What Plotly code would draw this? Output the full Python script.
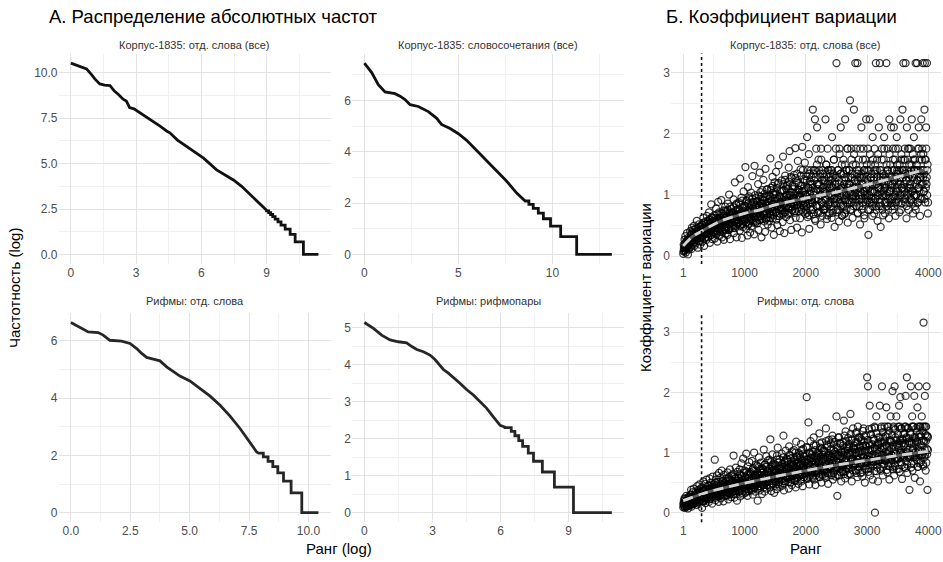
import plotly.graph_objects as go

W, H = 943, 562
FONT = "Liberation Sans, Arial, Helvetica, sans-serif"
GRID = "#e3e3e3"
GRID_MINOR = "#f0f0f0"
TICK_COLOR = "#4d4d4d"

# ---------------- Panel A: rank-frequency curves (log rank vs log frequency) ----------------
# smooth head of each curve, then the stepped tail given as frequency levels and their start points
A1_X = [0, 0.35, 0.72, 0.95, 1.1, 1.33, 1.55, 1.8, 2.0, 2.2, 2.4, 2.55, 2.7, 2.9, 3.17, 3.6,
        4.1, 4.4, 4.55, 4.9, 5.3, 5.7, 6.1, 6.7, 7.1, 7.47, 7.85, 8.2, 8.6, 9.0]
A1_Y = [10.54, 10.4, 10.22, 9.9, 9.67, 9.39, 9.32, 9.3, 9.0, 8.8, 8.55, 8.45, 8.09, 8.02, 7.81, 7.45,
        7.07, 6.8, 6.7, 6.3, 5.96, 5.62, 5.3, 4.66, 4.38, 4.1, 3.75, 3.36, 2.92, 2.43]
A1_LEVELS = [2.40, 2.30, 2.20, 2.08, 1.95, 1.79, 1.61, 1.39, 1.10, 0.69, 0.0]
A1_STARTS = [9.0, 9.09, 9.18, 9.28, 9.39, 9.52, 9.66, 9.85, 10.08, 10.31, 10.69]
A1_END = 11.38

A2_X = [0, 0.39, 0.74, 1.1, 1.63, 1.9, 2.16, 2.43, 2.87, 3.4, 3.85, 4.1, 4.56, 5.0, 5.44, 5.98,
        6.5, 7.04, 7.57, 8.1, 8.55]
A2_Y = [7.45, 7.08, 6.61, 6.33, 6.26, 6.16, 6.03, 5.83, 5.76, 5.56, 5.30, 5.06, 4.90, 4.70, 4.44, 4.04,
        3.65, 3.25, 2.85, 2.39, 2.10]
A2_LEVELS = [2.08, 1.95, 1.79, 1.61, 1.39, 1.10, 0.69, 0.0]
A2_STARTS = [8.55, 8.75, 8.98, 9.25, 9.52, 9.9, 10.44, 11.29]
A2_END = 13.16

A3_X = [0, 0.38, 0.73, 1.15, 1.36, 1.64, 2.13, 2.49, 2.77, 2.98, 3.19, 3.47, 3.75, 4.03, 4.31, 4.59,
        5.01, 5.44, 5.86, 6.28, 6.70, 7.12, 7.54, 7.82]
A3_Y = [6.64, 6.47, 6.31, 6.29, 6.20, 6.02, 5.99, 5.91, 5.73, 5.56, 5.42, 5.36, 5.30, 5.09, 4.92, 4.77,
        4.60, 4.34, 4.07, 3.75, 3.37, 2.94, 2.47, 2.12]
A3_LEVELS = [2.08, 1.95, 1.79, 1.61, 1.39, 1.10, 0.69, 0.0]
A3_STARTS = [7.9, 8.1, 8.3, 8.5, 8.71, 8.95, 9.27, 9.72]
A3_END = 10.42

A4_X = [0, 0.4, 0.76, 1.13, 1.5, 1.86, 2.09, 2.31, 2.6, 2.89, 3.11, 3.26, 3.48, 3.7, 3.92, 4.21,
        4.5, 4.8, 5.1, 5.39, 5.68, 5.98, 6.2]
A4_Y = [5.14, 4.98, 4.80, 4.67, 4.62, 4.59, 4.49, 4.41, 4.35, 4.26, 4.14, 4.04, 3.87, 3.77, 3.66, 3.50,
        3.33, 3.18, 3.00, 2.82, 2.59, 2.36, 2.31]
A4_LEVELS = [2.30, 2.20, 2.08, 1.95, 1.79, 1.61, 1.39, 1.10, 0.69, 0.0]
A4_STARTS = [6.2, 6.47, 6.63, 6.8, 6.97, 7.22, 7.45, 7.84, 8.37, 9.21]
A4_END = 10.9

# ---------------- Panel B: coefficient of variation by rank ----------------
# values in hundredths; each inner list holds 14 sampled ranks of a block of 100 ranks (1..4000)
CV_CORPUS = [
    [4, 19, 9, 27, 14, 33, 6, 22, 12, 38, 17, 3, 25, 11],
    [28, 14, 41, 22, 35, 12, 47, 31, 19, 38, 26, 50, 17, 33],
    [45, 21, 36, 58, 29, 14, 41, 33, 52, 25, 39, 19, 48, 31],
    [35, 52, 24, 44, 63, 38, 17, 47, 30, 57, 41, 27, 66, 36],
    [58, 31, 46, 72, 39, 22, 54, 43, 85, 35, 50, 28, 63, 48],
    [42, 67, 29, 55, 48, 78, 36, 61, 24, 51, 89, 44, 58, 33],
    [63, 40, 55, 92, 47, 31, 69, 52, 75, 27, 58, 44, 81, 37],
    [49, 74, 58, 35, 86, 62, 43, 101, 53, 28, 67, 46, 78, 55],
    [71, 46, 62, 93, 38, 57, 121, 66, 50, 84, 31, 60, 76, 53],
    [55, 88, 64, 42, 127, 70, 51, 96, 30, 61, 79, 48, 106, 67],
    [83, 58, 146, 69, 45, 92, 62, 34, 113, 74, 53, 98, 65, 39],
    [62, 104, 49, 77, 131, 58, 88, 70, 36, 148, 81, 55, 95, 66],
    [90, 54, 72, 118, 43, 83, 66, 137, 59, 97, 76, 31, 86, 108],
    [70, 125, 81, 57, 96, 40, 143, 74, 63, 109, 88, 52, 79, 100],
    [58, 94, 77, 160, 68, 112, 47, 85, 130, 62, 101, 35, 80, 121],
    [105, 72, 138, 60, 90, 51, 118, 83, 149, 66, 97, 41, 86, 75],
    [78, 124, 93, 56, 163, 84, 108, 38, 71, 132, 89, 64, 115, 99],
    [117, 68, 96, 145, 81, 172, 59, 104, 88, 43, 128, 76, 92, 110],
    [86, 133, 71, 102, 177, 63, 95, 121, 47, 84, 156, 109, 74, 98],
    [100, 62, 142, 88, 115, 39, 179, 94, 73, 126, 82, 107, 153, 69],
    [76, 131, 98, 195, 64, 112, 86, 167, 45, 103, 122, 81, 141, 92],
    [118, 87, 240, 69, 141, 105, 93, 224, 58, 129, 176, 82, 211, 110],
    [94, 158, 73, 117, 100, 135, 52, 176, 88, 124, 66, 141, 106, 82],
    [129, 77, 105, 224, 92, 150, 61, 118, 176, 85, 141, 99, 70, 112],
    [88, 141, 115, 63, 195, 100, 129, 76, 158, 94, 48, 122, 105, 176],
    [316, 105, 72, 141, 93, 124, 57, 176, 110, 86, 211, 135, 98, 66],
    [112, 84, 158, 100, 69, 129, 224, 92, 141, 76, 118, 176, 55, 106],
    [92, 141, 118, 255, 76, 105, 176, 88, 129, 63, 150, 100, 240, 112],
    [124, 316, 98, 176, 82, 141, 316, 70, 112, 158, 94, 129, 52, 105],
    [100, 211, 76, 129, 118, 88, 176, 141, 62, 106, 158, 94, 224, 112],
    [141, 92, 176, 35, 118, 100, 224, 76, 129, 150, 88, 106, 66, 195],
    [105, 129, 70, 176, 94, 141, 316, 82, 118, 158, 58, 112, 100, 211],
    [88, 316, 124, 48, 141, 106, 176, 76, 129, 98, 158, 195, 112, 70],
    [129, 100, 316, 82, 141, 176, 94, 118, 62, 224, 106, 150, 88, 211],
    [112, 141, 76, 176, 98, 211, 124, 88, 158, 66, 129, 106, 195, 141],
    [94, 176, 118, 141, 72, 129, 224, 100, 158, 86, 112, 240, 141, 316],
    [141, 106, 176, 88, 316, 124, 62, 211, 100, 158, 129, 76, 176, 112],
    [118, 176, 92, 141, 224, 106, 129, 70, 158, 195, 100, 141, 82, 316],
    [100, 141, 316, 124, 176, 88, 211, 112, 158, 66, 129, 141, 224, 94],
    [176, 316, 129, 141, 106, 240, 316, 88, 158, 211, 118, 316, 141, 70],
]
# the ranks in between, inside the dense band
CV_CORPUS_MID = [
    [8, 13, 17, 10, 21, 15, 24, 12, 19, 26, 16, 30, 14, 22],
    [24, 30, 21, 35, 28, 39, 25, 33, 43, 29, 36, 23, 32, 27],
    [34, 28, 40, 31, 45, 37, 26, 42, 35, 49, 32, 38, 44, 30],
    [39, 46, 33, 51, 42, 36, 55, 44, 31, 48, 40, 53, 37, 45],
    [44, 37, 52, 47, 60, 41, 55, 35, 49, 64, 45, 39, 57, 50],
    [50, 43, 58, 38, 63, 53, 47, 69, 41, 56, 61, 46, 72, 52],
    [54, 62, 45, 70, 51, 59, 40, 66, 57, 48, 74, 55, 63, 43],
    [58, 47, 66, 53, 76, 61, 44, 70, 56, 81, 50, 64, 59, 72],
    [62, 71, 51, 80, 58, 67, 46, 75, 64, 86, 55, 69, 60, 78],
    [66, 56, 76, 49, 84, 63, 71, 58, 91, 68, 53, 80, 74, 61],
    [70, 61, 82, 54, 90, 66, 76, 50, 86, 72, 64, 95, 58, 79],
    [73, 85, 60, 94, 68, 79, 55, 88, 75, 63, 100, 71, 83, 57],
    [76, 64, 90, 70, 99, 59, 82, 73, 105, 66, 86, 61, 93, 79],
    [80, 92, 67, 102, 74, 86, 60, 97, 83, 70, 110, 77, 64, 89],
    [83, 70, 98, 63, 108, 79, 91, 74, 115, 86, 67, 101, 81, 95],
    [86, 102, 73, 112, 66, 94, 82, 120, 77, 99, 70, 106, 89, 80],
    [89, 76, 107, 69, 118, 85, 97, 72, 125, 92, 80, 111, 84, 101],
    [92, 110, 78, 122, 71, 100, 86, 130, 81, 105, 75, 115, 95, 88],
    [95, 82, 114, 74, 128, 90, 104, 78, 135, 99, 86, 120, 93, 108],
    [97, 116, 80, 132, 76, 106, 90, 141, 84, 111, 94, 124, 88, 101],
    [100, 82, 124, 71, 141, 94, 112, 67, 135, 88, 118, 106, 76, 129],
    [88, 112, 76, 135, 100, 124, 61, 141, 94, 106, 82, 150, 118, 71],
    [118, 94, 141, 82, 106, 129, 71, 158, 100, 88, 112, 135, 76, 124],
    [76, 106, 124, 94, 150, 82, 112, 67, 141, 100, 129, 88, 118, 135],
    [124, 100, 82, 141, 112, 71, 135, 94, 158, 106, 88, 118, 129, 76],
    [94, 129, 106, 76, 141, 118, 88, 167, 100, 135, 82, 112, 150, 67],
    [106, 82, 135, 118, 94, 150, 71, 124, 100, 141, 88, 176, 112, 129],
    [118, 141, 88, 106, 129, 76, 158, 100, 135, 94, 112, 82, 167, 124],
    [88, 106, 150, 94, 118, 135, 71, 124, 100, 141, 82, 112, 176, 129],
    [135, 94, 118, 82, 158, 106, 129, 67, 141, 100, 124, 88, 112, 150],
    [100, 124, 76, 141, 112, 88, 167, 106, 129, 94, 135, 118, 82, 158],
    [124, 88, 135, 106, 150, 94, 118, 76, 141, 129, 100, 167, 112, 82],
    [94, 141, 112, 129, 82, 158, 100, 124, 67, 135, 106, 176, 118, 88],
    [112, 100, 150, 88, 124, 141, 76, 135, 106, 167, 94, 118, 129, 82],
    [129, 94, 118, 158, 106, 82, 141, 124, 100, 176, 88, 135, 112, 150],
    [106, 135, 88, 124, 150, 100, 118, 76, 167, 112, 141, 94, 129, 158],
    [118, 100, 158, 94, 135, 124, 82, 141, 112, 176, 106, 129, 150, 88],
    [135, 112, 94, 150, 106, 129, 167, 88, 124, 141, 100, 158, 118, 76],
    [100, 150, 124, 88, 141, 112, 176, 106, 135, 94, 129, 167, 118, 158],
    [141, 118, 167, 106, 135, 94, 158, 124, 112, 176, 129, 100, 150, 88],
]
CV_RHYMES = [
    [9, 16, 11, 24, 8, 19, 13, 28, 10, 21, 15, 7, 26, 12],
    [22, 12, 30, 17, 38, 10, 26, 19, 34, 14, 40, 21, 16, 28],
    [18, 35, 24, 13, 44, 29, 20, 38, 15, 47, 27, 33, 22, 41],
    [31, 8, 42, 25, 52, 19, 36, 28, 48, 16, 39, 55, 23, 33],
    [26, 45, 34, 18, 57, 39, 23, 50, 31, 43, 15, 60, 36, 29],
    [47, 30, 88, 39, 21, 55, 35, 62, 27, 44, 51, 18, 66, 38],
    [35, 58, 24, 48, 70, 31, 42, 53, 19, 63, 37, 45, 28, 56],
    [52, 29, 44, 67, 38, 22, 59, 47, 33, 72, 41, 26, 54, 62],
    [40, 64, 31, 95, 48, 25, 57, 36, 75, 44, 53, 20, 68, 46],
    [58, 35, 49, 72, 27, 63, 44, 82, 38, 55, 30, 90, 47, 66],
    [45, 70, 33, 58, 98, 41, 62, 28, 77, 52, 36, 84, 48, 65],
    [67, 39, 55, 86, 46, 30, 74, 59, 100, 43, 63, 35, 80, 51],
    [50, 78, 20, 62, 44, 92, 57, 37, 69, 83, 48, 66, 31, 74],
    [72, 46, 105, 58, 35, 80, 64, 51, 94, 40, 69, 56, 87, 62],
    [55, 88, 42, 122, 67, 36, 76, 60, 97, 48, 82, 64, 33, 71],
    [80, 52, 68, 39, 95, 61, 108, 47, 74, 57, 89, 43, 66, 77],
    [63, 98, 45, 76, 57, 128, 37, 84, 69, 52, 103, 72, 60, 90],
    [88, 58, 74, 40, 110, 65, 95, 50, 81, 70, 46, 102, 62, 78],
    [70, 104, 54, 85, 63, 42, 118, 77, 92, 58, 82, 48, 99, 67],
    [96, 62, 80, 114, 52, 88, 71, 44, 106, 75, 59, 93, 66, 84],
    [73, 109, 192, 58, 88, 67, 150, 82, 47, 98, 77, 119, 62, 91],
    [85, 60, 102, 74, 125, 55, 94, 80, 46, 112, 68, 88, 99, 71],
    [66, 97, 81, 132, 59, 108, 74, 90, 50, 117, 86, 63, 103, 78],
    [101, 72, 88, 58, 140, 79, 113, 66, 95, 48, 84, 121, 75, 92],
    [77, 115, 63, 94, 82, 128, 55, 104, 88, 70, 118, 96, 60, 86],
    [160, 83, 28, 107, 74, 96, 125, 62, 90, 115, 79, 52, 100, 69],
    [92, 68, 118, 153, 80, 101, 57, 135, 88, 74, 110, 95, 63, 124],
    [73, 108, 96, 64, 164, 85, 120, 52, 101, 90, 140, 77, 112, 82],
    [105, 80, 132, 70, 95, 117, 59, 143, 88, 102, 76, 125, 91, 66],
    [84, 122, 97, 60, 110, 78, 140, 92, 118, 50, 103, 86, 128, 72],
    [225, 95, 210, 74, 115, 88, 178, 62, 104, 130, 81, 140, 96, 55],
    [78, 120, 92, 143, 0, 106, 85, 160, 69, 112, 98, 52, 125, 88],
    [101, 178, 73, 118, 140, 88, 210, 96, 62, 125, 108, 80, 143, 92],
    [86, 112, 175, 98, 67, 130, 78, 143, 104, 55, 120, 92, 160, 82],
    [118, 95, 202, 76, 140, 106, 62, 210, 88, 125, 98, 160, 72, 112],
    [90, 143, 108, 178, 68, 120, 192, 84, 100, 140, 56, 116, 96, 130],
    [112, 76, 143, 98, 194, 86, 125, 225, 66, 104, 140, 92, 118, 38],
    [95, 130, 210, 82, 115, 160, 70, 106, 143, 92, 194, 58, 120, 100],
    [140, 88, 118, 175, 76, 106, 210, 96, 130, 52, 143, 84, 112, 160],
    [102, 143, 80, 316, 118, 92, 194, 130, 70, 143, 210, 106, 38, 125],
]
CV_RHYMES_MID = [
    [14, 20, 11, 17, 23, 13, 16, 10, 19, 15, 22, 12, 18, 14],
    [25, 16, 21, 29, 14, 19, 27, 22, 15, 24, 18, 26, 20, 17],
    [20, 31, 25, 17, 27, 33, 22, 18, 35, 24, 29, 21, 26, 23],
    [33, 24, 19, 29, 37, 22, 27, 35, 21, 25, 39, 28, 26, 32],
    [26, 38, 31, 22, 34, 45, 29, 24, 40, 33, 27, 43, 30, 35],
    [41, 29, 36, 49, 25, 33, 46, 31, 39, 27, 42, 35, 32, 37],
    [29, 44, 38, 32, 52, 35, 27, 46, 40, 34, 49, 36, 43, 39],
    [48, 36, 29, 42, 57, 33, 45, 39, 54, 31, 47, 40, 38, 50],
    [34, 53, 45, 39, 60, 41, 31, 49, 57, 42, 37, 50, 44, 46],
    [57, 40, 48, 64, 36, 52, 44, 61, 33, 47, 54, 42, 50, 45],
    [42, 60, 51, 35, 68, 47, 56, 39, 64, 48, 44, 58, 53, 46],
    [64, 45, 37, 56, 72, 50, 43, 69, 54, 41, 62, 48, 60, 51],
    [47, 67, 58, 40, 76, 53, 63, 44, 72, 54, 50, 66, 60, 46],
    [71, 51, 42, 63, 80, 56, 49, 76, 61, 46, 69, 53, 67, 57],
    [52, 74, 64, 45, 84, 58, 70, 49, 79, 60, 55, 72, 66, 53],
    [78, 56, 47, 69, 88, 61, 55, 83, 67, 51, 75, 58, 73, 63],
    [57, 81, 70, 49, 92, 63, 76, 53, 86, 65, 60, 79, 72, 58],
    [85, 60, 51, 75, 96, 66, 59, 90, 73, 55, 82, 62, 79, 68],
    [61, 88, 76, 53, 100, 68, 82, 57, 93, 70, 64, 85, 78, 62],
    [91, 64, 55, 81, 104, 72, 63, 97, 79, 59, 88, 66, 85, 70],
    [65, 94, 82, 56, 108, 74, 88, 60, 100, 72, 68, 91, 84, 66],
    [97, 67, 58, 87, 112, 76, 68, 104, 85, 62, 94, 70, 91, 74],
    [69, 100, 87, 59, 115, 78, 93, 63, 107, 76, 72, 96, 89, 70],
    [103, 71, 61, 92, 119, 80, 72, 110, 90, 65, 99, 74, 96, 78],
    [73, 106, 92, 62, 122, 82, 98, 66, 113, 80, 75, 101, 94, 74],
    [109, 75, 63, 96, 125, 84, 76, 116, 94, 68, 104, 77, 101, 82],
    [77, 112, 96, 64, 128, 86, 103, 69, 119, 84, 79, 106, 98, 78],
    [114, 79, 65, 100, 131, 88, 80, 122, 98, 71, 108, 81, 106, 86],
    [80, 117, 100, 66, 134, 89, 108, 72, 125, 88, 82, 110, 102, 81],
    [119, 82, 67, 104, 136, 91, 83, 127, 102, 73, 112, 84, 110, 90],
    [84, 121, 104, 68, 139, 93, 112, 74, 130, 92, 86, 114, 106, 85],
    [123, 85, 69, 108, 141, 94, 86, 132, 106, 75, 116, 87, 114, 93],
    [87, 125, 108, 70, 143, 96, 116, 76, 134, 95, 88, 118, 110, 88],
    [127, 88, 71, 111, 143, 97, 89, 136, 110, 77, 120, 89, 118, 96],
    [90, 129, 112, 72, 143, 99, 120, 78, 138, 98, 91, 121, 113, 90],
    [130, 91, 73, 115, 143, 100, 92, 140, 113, 79, 123, 92, 121, 99],
    [93, 132, 115, 74, 143, 101, 123, 80, 141, 100, 93, 124, 116, 93],
    [133, 94, 75, 118, 143, 103, 95, 143, 116, 81, 126, 94, 124, 102],
    [96, 135, 118, 76, 143, 104, 126, 82, 143, 103, 95, 127, 119, 96],
    [136, 97, 77, 120, 143, 105, 96, 143, 119, 83, 128, 97, 127, 104],
]
BLOCK = 100
STEP = 7

# smoothed trend of the coefficient of variation
TREND_RANK = [1, 150, 300, 600, 1000, 1250, 1500, 2000, 2500, 3000, 3500, 4000]
TREND_CORPUS = [0.17, 0.32, 0.41, 0.57, 0.70, 0.76, 0.84, 0.95, 1.05, 1.17, 1.30, 1.43]
TREND_RANK_R = [1, 300, 650, 1000, 1500, 2000, 2500, 3000, 3500, 4000]
TREND_RHYMES = [0.20, 0.31, 0.41, 0.49, 0.60, 0.70, 0.79, 0.87, 0.95, 1.02]
CUTOFF_RANK = 300

# ---------------- layout geometry (pixels) ----------------
COL_A1 = (58.5, 330.8)
COL_A2 = (352.0, 624.2)
COL_B = (671.0, 940.6)
ROW_TOP = (53.5, 264.0)
ROW_BOT = (313.0, 522.2)


def xdom(c):
    return [c[0] / W, c[1] / W]


def ydom(r):
    return [(H - r[1]) / H, (H - r[0]) / H]


def expand(lo, hi, f=0.05):
    d = (hi - lo) * f
    return [lo - d, hi + d]


def staircase(sx, sy, starts, levels, end):
    xs, ys = list(sx), list(sy)
    ends = list(starts[1:]) + [end]
    for s, e, lv in zip(starts, ends, levels):
        xs += [s, e]
        ys += [lv, lv]
    return xs, ys


def axis(domain, rng, vals, text, minor, anchor):
    return dict(
        domain=domain, range=rng, tickvals=vals, ticktext=text, anchor=anchor,
        showgrid=True, gridcolor=GRID, gridwidth=1.1, zeroline=False, showline=False,
        ticks="", tickfont=dict(family=FONT, size=12, color=TICK_COLOR),
        minor=dict(tickvals=minor, showgrid=True, gridcolor=GRID_MINOR, gridwidth=0.7, ticks=""),
        fixedrange=True,
    )


fig = go.Figure()

panels_a = [
    (A1_X, A1_Y, A1_STARTS, A1_LEVELS, A1_END, "x", "y", "#111111"),
    (A2_X, A2_Y, A2_STARTS, A2_LEVELS, A2_END, "x2", "y2", "#111111"),
    (A3_X, A3_Y, A3_STARTS, A3_LEVELS, A3_END, "x3", "y3", "#262626"),
    (A4_X, A4_Y, A4_STARTS, A4_LEVELS, A4_END, "x4", "y4", "#262626"),
]
ranges_a = []
for sx, sy, st, lv, end, xa, ya, col in panels_a:
    xs, ys = staircase(sx, sy, st, lv, end)
    ranges_a.append((expand(min(xs), max(xs)), expand(min(ys), max(ys))))
    fig.add_trace(go.Scatter(x=xs, y=ys, mode="lines", xaxis=xa, yaxis=ya,
                             line=dict(color=col, width=2.8), hoverinfo="skip", showlegend=False))


def scatter_points(blocks, offset):
    ranks, vals = [], []
    for b, block in enumerate(blocks):
        for j, v in enumerate(block):
            ranks.append(b * BLOCK + 1 + offset + j * STEP)
            vals.append(v / 100)
    return ranks, vals


ranges_b = []
for outer, inner, tr_x, tr_y, xa, ya in [
    (CV_CORPUS, CV_CORPUS_MID, TREND_RANK, TREND_CORPUS, "x5", "y5"),
    (CV_RHYMES, CV_RHYMES_MID, TREND_RANK_R, TREND_RHYMES, "x6", "y6"),
]:
    rx, ry = scatter_points(outer, 0)
    mx, my = scatter_points(inner, 3)
    rx, ry = rx + mx, ry + my
    ranges_b.append(expand(min(ry), max(ry)))
    fig.add_trace(go.Scatter(
        x=rx, y=ry, mode="markers", xaxis=xa, yaxis=ya,
        marker=dict(symbol="circle-open", size=7, color="rgba(0,0,0,0.78)", line=dict(width=1.25)),
        hoverinfo="skip", showlegend=False))
    fig.add_trace(go.Scatter(x=tr_x, y=tr_y, mode="lines", xaxis=xa, yaxis=ya, line_shape="spline",
                             line=dict(color="#5a5a5a", width=2.8), hoverinfo="skip", showlegend=False))
    fig.add_trace(go.Scatter(x=tr_x, y=tr_y, mode="lines", xaxis=xa, yaxis=ya, line_shape="spline",
                             line=dict(color="#d4d4d4", width=2.8, dash="10px,6px"),
                             hoverinfo="skip", showlegend=False))
    fig.add_shape(type="line", xref=xa, yref=f"{ya} domain", x0=CUTOFF_RANK, x1=CUTOFF_RANK,
                  y0=0, y1=1, line=dict(color="#111111", width=1.6, dash="dot"))

rank_range = expand(1, 4000)

layout = dict(
    width=W, height=H, margin=dict(l=0, r=0, t=0, b=0),
    paper_bgcolor="white", plot_bgcolor="white",
    font=dict(family=FONT, color="#000000"),
    showlegend=False,
    xaxis=axis(xdom(COL_A1), ranges_a[0][0], [0, 3, 6, 9], ["0", "3", "6", "9"], [1.5, 4.5, 7.5, 10.5], "y"),
    yaxis=axis(ydom(ROW_TOP), ranges_a[0][1], [0, 2.5, 5, 7.5, 10], ["0.0", "2.5", "5.0", "7.5", "10.0"],
               [1.25, 3.75, 6.25, 8.75], "x"),
    xaxis2=axis(xdom(COL_A2), ranges_a[1][0], [0, 5, 10], ["0", "5", "10"], [2.5, 7.5, 12.5], "y2"),
    yaxis2=axis(ydom(ROW_TOP), ranges_a[1][1], [0, 2, 4, 6], ["0", "2", "4", "6"], [1, 3, 5, 7], "x2"),
    xaxis3=axis(xdom(COL_A1), ranges_a[2][0], [0, 2.5, 5, 7.5, 10], ["0.0", "2.5", "5.0", "7.5", "10.0"],
                [1.25, 3.75, 6.25, 8.75], "y3"),
    yaxis3=axis(ydom(ROW_BOT), ranges_a[2][1], [0, 2, 4, 6], ["0", "2", "4", "6"], [1, 3, 5], "x3"),
    xaxis4=axis(xdom(COL_A2), ranges_a[3][0], [0, 3, 6, 9], ["0", "3", "6", "9"], [1.5, 4.5, 7.5, 10.5], "y4"),
    yaxis4=axis(ydom(ROW_BOT), ranges_a[3][1], [0, 1, 2, 3, 4, 5], ["0", "1", "2", "3", "4", "5"],
                [0.5, 1.5, 2.5, 3.5, 4.5], "x4"),
    xaxis5=axis(xdom(COL_B), rank_range, [1, 1000, 2000, 3000, 4000], ["1", "1000", "2000", "3000", "4000"],
                [500, 1500, 2500, 3500], "y5"),
    yaxis5=axis(ydom(ROW_TOP), ranges_b[0], [0, 1, 2, 3], ["0", "1", "2", "3"], [0.5, 1.5, 2.5], "x5"),
    xaxis6=axis(xdom(COL_B), rank_range, [1, 1000, 2000, 3000, 4000], ["1", "1000", "2000", "3000", "4000"],
                [500, 1500, 2500, 3500], "y6"),
    yaxis6=axis(ydom(ROW_BOT), ranges_b[1], [0, 1, 2, 3], ["0", "1", "2", "3"], [0.5, 1.5, 2.5], "x6"),
)
fig.update_layout(**layout)


def px_annot(text, x, y, size, color="#000000", angle=0, xanchor="center"):
    fig.add_annotation(text=text, x=x / W, y=1 - y / H, xref="paper", yref="paper",
                       showarrow=False, textangle=angle, xanchor=xanchor, yanchor="middle",
                       font=dict(family=FONT, size=size, color=color))


# section titles
px_annot("А. Распределение абсолютных частот", 47, 16, 18.5, xanchor="left")
px_annot("Б. Коэффициент вариации", 664, 16, 18.5, xanchor="left")

# facet strip labels
strip = "#333333"
px_annot("Корпус-1835: отд. слова (все)", sum(COL_A1) / 2, 45, 11, strip)
px_annot("Корпус-1835: словосочетания (все)", sum(COL_A2) / 2, 45, 11, strip)
px_annot("Рифмы: отд. слова", sum(COL_A1) / 2, 301, 11, strip)
px_annot("Рифмы: рифмопары", sum(COL_A2) / 2, 301, 11, strip)
px_annot("Корпус-1835: отд. слова (все)", sum(COL_B) / 2, 45, 11, strip)
px_annot("Рифмы: отд. слова", sum(COL_B) / 2, 301, 11, strip)

# axis titles
px_annot("Ранг (log)", 339, 548, 15)
px_annot("Ранг", 806, 548, 15)
px_annot("Частотность (log)", 14, 288, 15, angle=-90)
px_annot("Коэффициент вариации", 645, 288, 15, angle=-90)

fig.write_html("out.html")
